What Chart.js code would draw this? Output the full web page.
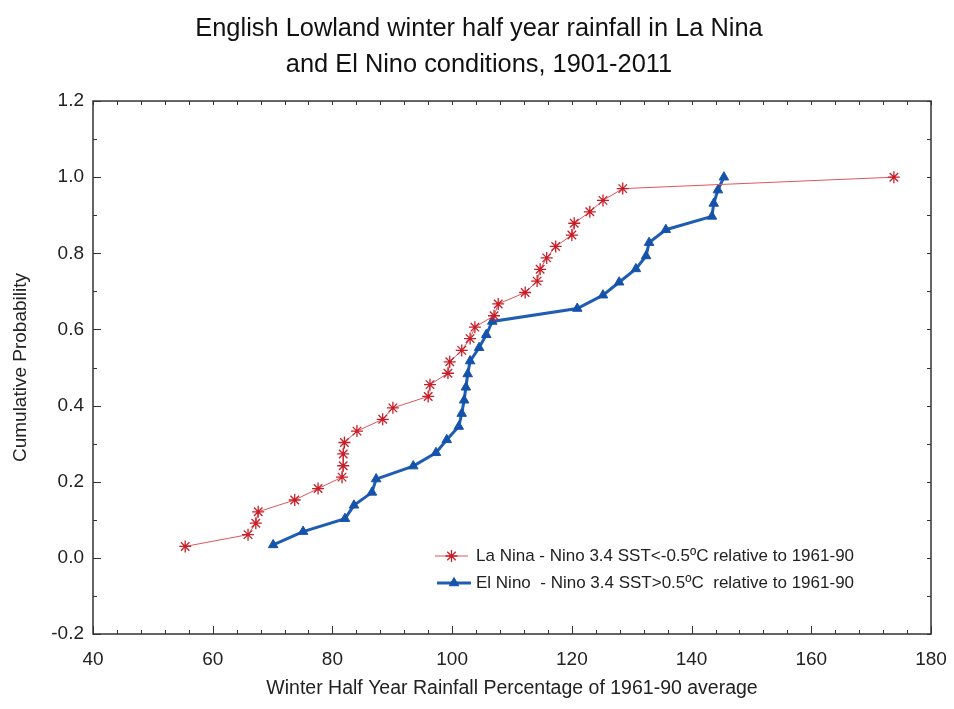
<!DOCTYPE html>
<html>
<head>
<meta charset="utf-8">
<script src="https://cdn.jsdelivr.net/npm/chart.js@4.4.0/dist/chart.umd.min.js"></script>
<style>
  body{margin:0;background:#fff;}
  #wrap{width:954px;height:709px;}
</style>
</head>
<body>
<div id="wrap"><canvas id="cdf" width="954" height="709"></canvas></div>
<script>
//----- data -----//
const titleLines = ['English Lowland winter half year rainfall in La Nina',
                    'and El Nino conditions, 1901-2011'];
const xTitle = 'Winter Half Year Rainfall Percentage of 1961-90 average';
const yTitle = 'Cumulative Probability';

const laNinaName = 'La Nina - Nino 3.4 SST<-0.5\u00baC relative to 1961-90';
const laNinaRain = [55.4, 65.9, 67.2, 67.6, 73.7, 77.6, 81.6, 81.8, 81.8, 82.0, 84.1,
                    88.4, 90.1, 96.0, 96.3, 99.3, 99.6, 101.6, 103.0, 103.8, 107.0,
                    107.7, 112.2, 114.2, 114.7, 115.8, 117.3, 120.0, 120.4, 123.0,
                    125.2, 128.5, 173.8];
const laNinaProb = [0.030, 0.061, 0.091, 0.121, 0.152, 0.182, 0.212, 0.242, 0.273,
                    0.303, 0.333, 0.364, 0.394, 0.424, 0.455, 0.485, 0.515, 0.545,
                    0.576, 0.606, 0.636, 0.667, 0.697, 0.727, 0.758, 0.788, 0.818,
                    0.848, 0.879, 0.909, 0.939, 0.970, 1.000];

const elNinoName = 'El Nino  - Nino 3.4 SST>0.5\u00baC  relative to 1961-90';
const elNinoRain = [70.1, 75.1, 82.1, 83.6, 86.6, 87.3, 93.5, 97.3, 99.1, 101.1, 101.6,
                    102.0, 102.3, 102.6, 103.0, 104.5, 105.7, 106.7, 120.9, 125.2,
                    127.9, 130.7, 132.4, 132.9, 135.7, 143.4, 143.7, 144.4, 145.4];
const elNinoProb = [0.034, 0.069, 0.103, 0.138, 0.172, 0.207, 0.241, 0.276, 0.310,
                    0.345, 0.379, 0.414, 0.448, 0.483, 0.517, 0.552, 0.586, 0.621,
                    0.655, 0.690, 0.724, 0.759, 0.793, 0.828, 0.862, 0.897, 0.931,
                    0.966, 1.000];

const xMin = 40, xMax = 180, xStep = 20, xMinorStep = 4;
const yMin = -0.2, yMax = 1.2, yStep = 0.2, yMinorStep = 0.1;

function toPoints(xs, ys){
  let pts = [];
  for(let i=0;i<xs.length;i++) pts.push({x: xs[i], y: ys[i]});
  return pts;
}

const fontFam = '"Liberation Sans", Arial, sans-serif';

//----- frame, inward ticks and legend box -----//
const frameAndLegend = {
  id: 'frameAndLegend',
  afterDraw(chart){
    const ctx = chart.ctx;
    const a = chart.chartArea;
    const xs = chart.scales.x, ys = chart.scales.y;
    ctx.save();
    ctx.strokeStyle = '#333';
    ctx.lineWidth = 1.5;
    ctx.strokeRect(a.left, a.top, a.right - a.left, a.bottom - a.top);

    ctx.lineWidth = 1;
    ctx.beginPath();
    // bottom / top axis: major + minor
    for(let v=xMin; v<=xMax+0.001; v+=xMinorStep){
      const px = Math.round(xs.getPixelForValue(v)) + 0.5;
      const major = Math.abs((v - xMin) % xStep) < 0.001;
      ctx.moveTo(px, a.bottom); ctx.lineTo(px, a.bottom - (major ? 8 : 4));
      ctx.moveTo(px, a.top);    ctx.lineTo(px, a.top + 4);
    }
    // left / right axis
    for(let k=0; k<=Math.round((yMax-yMin)/yMinorStep); k++){
      const v = yMin + k*yMinorStep;
      const py = Math.round(ys.getPixelForValue(v)) + 0.5;
      const major = k % 2 === 0;
      ctx.moveTo(a.left, py);  ctx.lineTo(a.left + (major ? 8 : 4), py);
      ctx.moveTo(a.right, py); ctx.lineTo(a.right - 4, py);
    }
    ctx.stroke();

    // legend inside the plot
    const rows = [
      {ds: chart.data.datasets[0], x0: 435, x1: 468, y: 556},
      {ds: chart.data.datasets[1], x0: 437, x1: 471, y: 583}
    ];
    ctx.font = '17px ' + fontFam;
    ctx.textBaseline = 'middle';
    ctx.textAlign = 'left';
    rows.forEach(r => {
      ctx.strokeStyle = r.ds.borderColor;
      ctx.lineWidth = r.ds.borderWidth;
      ctx.beginPath(); ctx.moveTo(r.x0, r.y); ctx.lineTo(r.x1, r.y); ctx.stroke();
      ctx.fillStyle = r.ds.pointBackgroundColor;
      ctx.strokeStyle = r.ds.pointBorderColor;
      ctx.lineWidth = r.ds.pointBorderWidth;
      Chart.helpers.drawPoint(ctx, {
        pointStyle: r.ds.pointStyle, radius: r.ds.pointRadius,
        borderWidth: r.ds.pointBorderWidth, rotation: 0
      }, (r.x0 + r.x1)/2, r.y);
      ctx.fillStyle = '#222';
      ctx.fillText(r.ds.label, 476, r.y);
    });
    ctx.restore();
  }
};

new Chart(document.getElementById('cdf'), {
  type: 'scatter',
  data: {
    datasets: [
      {
        label: laNinaName,
        data: toPoints(laNinaRain, laNinaProb),
        showLine: true,
        borderColor: '#e0545c',
        borderWidth: 1,
        pointStyle: 'star',
        pointRadius: 6,
        pointBorderColor: '#c81e28',
        pointBackgroundColor: '#c81e28',
        pointBorderWidth: 1.3,
        tension: 0
      },
      {
        label: elNinoName,
        data: toPoints(elNinoRain, elNinoProb),
        showLine: true,
        borderColor: '#1f5cb4',
        borderWidth: 3,
        pointStyle: 'triangle',
        pointRadius: 5.5,
        pointBorderColor: '#1553aa',
        pointBackgroundColor: '#1553aa',
        pointBorderWidth: 1,
        tension: 0
      }
    ]
  },
  options: {
    responsive: false,
    animation: false,
    layout: {padding: {left: 4, right: 0, top: 0, bottom: 0}},
    plugins: {
      legend: {display: false},
      tooltip: {enabled: false},
      title: {
        display: true,
        text: titleLines,
        color: '#111',
        font: {family: fontFam, size: 25.4, weight: 'normal', lineHeight: 1.42},
        padding: {top: 11, bottom: 17.9}
      }
    },
    scales: {
      x: {
        type: 'linear',
        min: xMin, max: xMax,
        grid: {display: false, drawTicks: false},
        border: {display: false},
        ticks: {stepSize: xStep, padding: 14, color: '#222',
                font: {family: fontFam, size: 19}},
        title: {display: true, text: xTitle, color: '#222',
                font: {family: fontFam, size: 19.5}, padding: {top: 0, bottom: 9}},
        afterFit(scale){ scale.height = 75; scale.paddingRight = 23; scale.paddingLeft = 0; }
      },
      y: {
        type: 'linear',
        min: yMin, max: yMax,
        grid: {display: false, drawTicks: false},
        border: {display: false},
        ticks: {stepSize: yStep, padding: 9, color: '#222',
                font: {family: fontFam, size: 19},
                callback: v => (Math.abs(v) < 1e-9 ? 0 : Number(v)).toFixed(1)},
        title: {display: true, text: yTitle, color: '#222',
                font: {family: fontFam, size: 19}, padding: {top: 5, bottom: 0}},
        afterFit(scale){ scale.width = 89; scale.paddingTop = 0; scale.paddingBottom = 0; }
      }
    }
  },
  plugins: [frameAndLegend]
});
</script>
</body>
</html>
